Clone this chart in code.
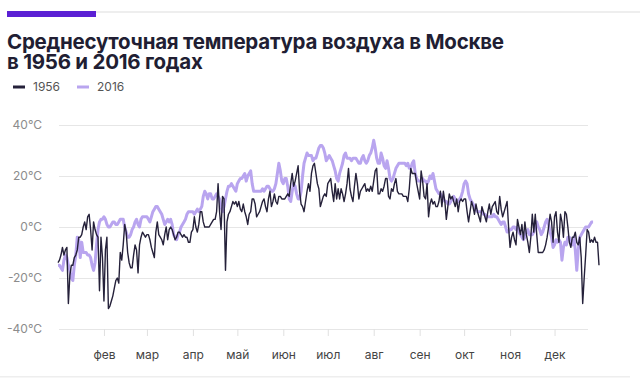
<!DOCTYPE html>
<html>
<head>
<meta charset="utf-8">
<script src="https://cdn.jsdelivr.net/npm/d3@7"></script>
<style>
  body { margin: 0; background: #fff; }
  svg { display: block; font-family: Inter, 'Noto Sans', sans-serif; }
</style>
</head>
<body>
<div id="chart"></div>
<script>
const title = ['Среднесуточная температура воздуха в Москве', 'в 1956 и 2016 годах']
const seriesNames = ['1956', '2016']
const monthLabels = ['фев', 'мар', 'апр', 'май', 'июн', 'июл', 'авг', 'сен', 'окт', 'ноя', 'дек']
const yTicks = [-40, -20, 0, 20, 40]

// daily mean temperature, °C, from Jan 1
const t1956 = [
  -14, -13, -11, -8, -11, -9, -8, -30, -19, -15,
  -15, -12, -11, -9, -4, -4, -3, 0, 2, -1,
  4, 5, -1, -9, 2, -1, -3, -4, -25, -4,
  -12, -29, -9, -4, -32, -31, -29, -27, -24, -21,
  -20, -22, -10, -13, -7, 1, -2, -10, -14, -16,
  -16, -11, -7, -9, -18, -7, -4, -2, -3, -4,
  -3, -3, -5, -8, -10, -12, -2, 2, -3, -4,
  -5, -7, -3, 0, -5, -1, 0, -1, -3, -5,
  -4, -2, -2, -3, -4, -3, -4, -4, -6, -6,
  -2, -1, 4, 0, -2,
  1, 6, 6, 2, 0, 0, 0, 0, 1, 2,
  3, 3, 6, 17, 6, -1, 12, 11, -17, 2,
  5, 6, 8, 10, 9, 10, 8, 10, 7, 6,
  9, 6, 4, 1, 5, 6, 11, 11, 9, 4,
  5, 6, 8, 10, 11, 8, 6, 11, 14, 8,
  10, 13, 10, 9, 12, 12, 11, 11, 11, 12,
  13, 12, 17, 21, 16, 18, 21, 24, 14, 9,
  8, 6, 10, 14, 17, 14, 21, 24, 25, 21,
  17, 15, 8, 10, 12, 13, 12, 17, 18, 19,
  14, 10, 17, 11, 15, 11, 15, 13, 10, 13,
  17, 23, 15, 12, 10, 16, 21, 17, 11, 14,
  15, 16, 17, 14, 15, 14, 16, 14, 18, 22,
  23, 13, 13,
  15, 14, 16, 19, 19, 12, 11, 15, 14, 17,
  19, 14, 13, 13, 13, 12, 12, 12, 10, 15,
  23, 21, 21, 21, 17, 14, 11, 22, 18, 12,
  11, 17, 4, 9, 11, 9, 10, 8, 8, 10,
  14, 8, 14, 10, 3, 8, 13, 11, 12, 10,
  8, 11, 6, 10, 11, 10, 11, 11, 6, 2,
  6, 10, 8, 5, 9, 6, 4, 2, 8, 6,
  4, 2, 6, 9, 5, 8, 9, 10, 6, 5,
  12, 7, 4, 6, 8, 10, 0, -8, -4, -2,
  -5, -7, 3, 0, -3, 1, -5, 2, -3, -6,
  -10, -4, 5, -2, 5, -3, -10, -10, -10, -10,
  -9, -7, -4, 0, 5, 2, -6, 4, 6, -2,
  -6, 5, 2, -4, 6, 5, 0, -6, -8, -4,
  -4, -2, -6, -7, -4, -12, -30, -20, -11, -1,
  -2, -6, -5, -6, -4, -6, -6, -15
]

const t2016 = [
  -15, -15, -16, -17, -13, -11, -12, -15, -17, -20,
  -21, -15, -11, -4, -5, -12, -6, -10, -10, -10,
  -11, -11, -12, -15, -17, -14, -7, -1, 2, 3,
  3, 4, 3, 1, 0, 0, 1, 2, 2, 1,
  1, 2, 3, 3, 3, 0, -2, -4, -4, -3,
  -1, 0, 2, 3, 1, 0, 3, 4, 4, 4,
  4, 3, 2, 4, 6, 7, 8, 8, 7, 6,
  5, 3, 1, 2, 3, 2, 3, 1, -3, -4,
  -5, -3, -2, 0, 1, 2, 3, 5, 6, 6,
  6, 6, 5, 6, 7,
  6, 7, 8, 12, 14, 13, 11, 13, 13, 11,
  11, 12, 13, 12, 11, 8, 6, 8, 11, 14,
  16, 16, 17, 16, 15, 14, 17, 18, 19, 19,
  20, 21, 18, 20, 21, 22, 17, 14, 14, 14,
  14, 14, 14, 15, 14, 15, 16, 16, 15, 14,
  14, 15, 17, 21, 25, 22, 18, 17, 19, 19,
  16, 11, 10, 14, 17, 16, 13, 11, 11, 14,
  20, 25, 27, 29, 28, 28, 28, 26, 27, 27,
  29, 31, 32, 32, 31, 29, 26, 27, 28, 27,
  26, 24, 22, 19, 18, 21, 23, 25, 28, 29,
  27, 27, 27, 26, 27, 27, 27, 26, 25, 25,
  27, 28, 26, 25, 26, 28, 29, 31, 34, 31,
  27, 25, 25,
  29, 27, 24, 23, 26, 23, 19, 18, 19, 21,
  23, 24, 25, 25, 25, 25, 25, 24, 25, 23,
  23, 25, 26, 21, 19, 18, 18, 18, 19, 18,
  18, 17, 18, 20, 19, 21, 18, 15, 14, 13,
  13, 12, 11, 10, 10, 9, 9, 10, 11, 12,
  11, 10, 10, 11, 12, 14, 17, 18, 17, 13,
  11, 10, 9, 8, 7, 6, 6, 6, 6, 5,
  5, 4, 4, 4, 4, 4, 5, 4, 4, 3,
  2, 1, 2, 2, 0, -2, -2, -1, -1, 0,
  0, -1, 0, -2, -3, -4, -5, -4, -2, -1,
  -3, -3, -3, -2, 0, 2, 0, -1, -3, -2,
  0, 2, 3, 1, -2, -4, -8, -7,
  -5, -6, -5, -6, -13, -8, -6, -7, -4, -4,
  -6, -7, -4, -9, -17, -9, -4, -3, -2, -1,
  0, 0, 0, 1, 2, 2
]

const width = 640
const height = 382
const colors = { '1956': '#25213a', '2016': '#b9a5ef' }

const svg = d3
  .select('#chart')
  .append('svg')
  .attr('width', width)
  .attr('height', height)

// header strip
svg.append('rect').attr('x', 96).attr('y', 11).attr('width', width - 96).attr('height', 2).attr('fill', '#eeeeee')
svg.append('rect').attr('x', 7).attr('y', 11).attr('width', 89).attr('height', 6).attr('fill', '#5b20d4')

// two-line title as one text block
svg
  .append('text')
  .attr('fill', '#211e33')
  .style('font-size', '20.5px')
  .style('font-weight', 700)
  .style('letter-spacing', '-0.25px')
  .selectAll('tspan')
  .data(title)
  .enter()
  .append('tspan')
  .attr('x', 7)
  .attr('y', (d, i) => 49 + i * 20)
  .text(d => d)

// legend
const legend = svg
  .selectAll('.legend')
  .data(seriesNames)
  .enter()
  .append('g')
  .attr('transform', (d, i) => `translate(${13 + i * 64}, 87)`)
legend.append('line').attr('x1', 0).attr('x2', 12).attr('stroke', d => colors[d]).attr('stroke-width', 3)
legend
  .append('text')
  .attr('x', 20)
  .attr('dy', '0.35em')
  .attr('fill', '#555')
  .style('font-size', '12px')
  .text(d => d)

const start = new Date(2016, 0, 1)
const x = d3
  .scaleTime()
  .domain([start, new Date(2016, 11, 31)])
  .range([58, 599])
const y = d3
  .scaleLinear()
  .domain([-40, 40])
  .range([329, 125])

const yAxis = svg
  .append('g')
  .attr('transform', 'translate(59,0)')
  .call(
    d3
      .axisLeft(y)
      .tickValues(yTicks)
      .tickSize(-529)
      .tickPadding(17)
      .tickFormat(d => d + '°C')
  )
yAxis.select('.domain').remove()
yAxis.selectAll('line').attr('stroke', '#e6e6e6')
yAxis.selectAll('text').attr('fill', '#8c8c8c').style('font-size', '12px').style('font-family', 'Inter, sans-serif')

const months = d3.timeMonth.range(new Date(2016, 1, 1), new Date(2016, 11, 2))
const xAxis = svg
  .append('g')
  .attr('transform', 'translate(0,329)')
  .call(
    d3
      .axisBottom(x)
      .tickValues(months)
      .tickSize(7)
      .tickPadding(14)
      .tickFormat((d, i) => monthLabels[i])
  )
xAxis.select('.domain').remove()
xAxis.selectAll('line').attr('stroke', '#e0e0e0')
xAxis.selectAll('text').attr('fill', '#444').style('font-size', '12px').style('font-family', 'Inter, sans-serif')

const line = d3
  .line()
  .x((d, i) => x(d3.timeDay.offset(start, i)))
  .y(d => y(d))

svg
  .append('path')
  .datum(t2016)
  .attr('d', line)
  .attr('fill', 'none')
  .attr('stroke', colors['2016'])
  .attr('stroke-width', 3)
  .attr('stroke-linejoin', 'round')

svg
  .append('path')
  .datum(t1956)
  .attr('d', line)
  .attr('fill', 'none')
  .attr('stroke', colors['1956'])
  .attr('stroke-width', 1.4)
  .attr('stroke-linejoin', 'round')

svg.append('rect').attr('x', 0).attr('y', 376).attr('width', 630).attr('height', 1.5).attr('fill', '#eeeeee')
</script>
</body>
</html>
